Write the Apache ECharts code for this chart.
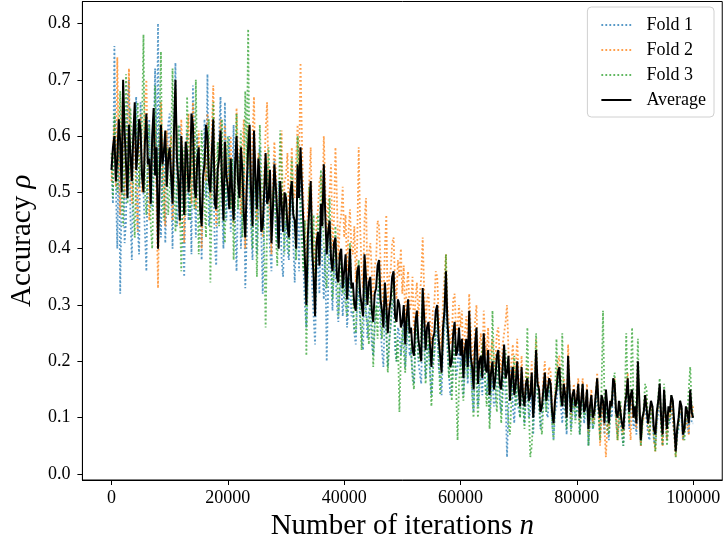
<!DOCTYPE html>
<html>
<head>
<meta charset="utf-8">
<script src="https://cdn.jsdelivr.net/npm/echarts@6/dist/echarts.min.js"></script>
<style>
html,body{margin:0;padding:0;background:#fff;}
#chart{width:723px;height:547px;}
</style>
</head>
<body>
<div id="chart"></div>
<script>
// Sampling step of the recorded curves (iterations)
const sampleStep = 250;

const fold1 = [
0.55,0.48,0.76,0.52,0.40,0.61,0.32,0.50,0.62,0.41,0.45,0.66,0.70,0.46,0.38,0.54,0.58,0.67,0.44,0.39,0.66,0.53,0.50,0.43,0.36,0.57,0.63,0.48,0.47,0.60,0.72,0.51,0.80,0.46,0.42,0.55,0.58,0.41,0.49,0.62,
0.64,0.51,0.40,0.58,0.73,0.44,0.47,0.62,0.56,0.43,0.35,0.54,0.61,0.45,0.52,0.39,0.69,0.56,0.42,0.60,0.57,0.47,0.38,0.52,0.63,0.49,0.71,0.44,0.46,0.59,0.55,0.41,0.37,0.50,0.60,0.67,0.48,0.40,0.66,0.45,
0.53,0.60,0.43,0.51,0.62,0.45,0.36,0.49,0.57,0.40,0.48,0.55,0.33,0.42,0.61,0.50,0.44,0.38,0.54,0.47,0.39,0.53,0.58,0.43,0.32,0.46,0.50,0.55,0.45,0.40,0.36,0.48,0.56,0.44,0.41,0.52,0.49,0.38,0.35,0.44,
0.45,0.40,0.38,0.46,0.50,0.41,0.34,0.43,0.47,0.36,0.52,0.44,0.37,0.30,0.26,0.35,0.41,0.45,0.33,0.28,0.23,0.36,0.39,0.32,0.44,0.37,0.31,0.40,0.20,0.33,0.42,0.35,0.29,0.38,0.36,0.30,0.27,0.33,0.34,0.28,
0.32,0.35,0.26,0.30,0.37,0.28,0.29,0.25,0.23,0.31,0.33,0.27,0.27,0.22,0.35,0.30,0.24,0.29,0.30,0.23,0.21,0.27,0.28,0.32,0.34,0.26,0.22,0.19,0.29,0.25,0.19,0.24,0.26,0.30,0.31,0.22,0.20,0.26,0.25,0.21,
0.24,0.27,0.19,0.23,0.28,0.21,0.22,0.18,0.16,0.24,0.27,0.20,0.20,0.16,0.30,0.24,0.17,0.22,0.23,0.18,0.14,0.20,0.21,0.25,0.26,0.19,0.17,0.14,0.22,0.26,0.31,0.22,0.18,0.14,0.15,0.21,0.23,0.17,0.19,0.23,
0.19,0.22,0.14,0.19,0.22,0.16,0.26,0.18,0.15,0.11,0.20,0.24,0.12,0.17,0.18,0.14,0.23,0.16,0.14,0.19,0.10,0.15,0.17,0.12,0.13,0.18,0.19,0.13,0.11,0.16,0.21,0.14,0.03,0.12,0.15,0.19,0.12,0.09,0.17,0.13,
0.13,0.10,0.17,0.12,0.09,0.14,0.15,0.10,0.11,0.16,0.07,0.12,0.19,0.14,0.12,0.08,0.08,0.13,0.16,0.11,0.10,0.15,0.14,0.09,0.06,0.11,0.12,0.16,0.17,0.12,0.09,0.14,0.11,0.07,0.18,0.13,0.08,0.12,0.13,0.10,
0.11,0.14,0.07,0.11,0.14,0.09,0.09,0.13,0.05,0.10,0.12,0.08,0.08,0.12,0.15,0.10,0.07,0.12,0.11,0.07,0.13,0.10,0.06,0.11,0.10,0.15,0.14,0.09,0.07,0.11,0.11,0.07,0.05,0.10,0.12,0.15,0.08,0.12,0.13,0.08,
0.10,0.07,0.17,0.11,0.05,0.09,0.09,0.12,0.12,0.07,0.06,0.11,0.10,0.06,0.05,0.09,0.11,0.14,0.08,0.05,0.13,0.09,0.06,0.10,0.09,0.12,0.12,0.07,0.04,0.07,0.08,0.11,0.10,0.06,0.06,0.10,0.09,0.07,0.13,0.09,
0.09];

const fold2 = [
0.52,0.58,0.62,0.51,0.74,0.57,0.46,0.63,0.68,0.49,0.55,0.61,0.72,0.53,0.48,0.59,0.60,0.47,0.43,0.56,0.64,0.50,0.52,0.66,0.70,0.54,0.45,0.51,0.57,0.63,0.62,0.48,0.33,0.52,0.66,0.58,0.50,0.44,0.61,0.55,
0.55,0.60,0.45,0.53,0.68,0.57,0.50,0.44,0.63,0.55,0.41,0.52,0.59,0.64,0.54,0.48,0.66,0.58,0.47,0.54,0.61,0.51,0.40,0.49,0.57,0.52,0.64,0.56,0.49,0.61,0.69,0.55,0.44,0.50,0.58,0.63,0.53,0.47,0.62,0.56,
0.50,0.55,0.60,0.48,0.44,0.53,0.65,0.57,0.52,0.46,0.58,0.63,0.40,0.50,0.62,0.55,0.49,0.60,0.67,0.51,0.45,0.57,0.55,0.48,0.42,0.53,0.61,0.66,0.51,0.45,0.39,0.52,0.59,0.54,0.47,0.41,0.56,0.61,0.44,0.52,
0.53,0.57,0.45,0.51,0.58,0.50,0.49,0.56,0.62,0.54,0.73,0.59,0.48,0.43,0.34,0.47,0.52,0.58,0.44,0.40,0.33,0.45,0.47,0.52,0.53,0.46,0.60,0.51,0.42,0.48,0.50,0.55,0.40,0.45,0.58,0.49,0.38,0.44,0.46,0.51,
0.42,0.46,0.36,0.43,0.47,0.40,0.39,0.44,0.34,0.41,0.58,0.44,0.36,0.33,0.45,0.49,0.34,0.39,0.41,0.36,0.31,0.37,0.38,0.45,0.44,0.38,0.33,0.30,0.40,0.46,0.29,0.35,0.36,0.41,0.42,0.34,0.31,0.38,0.35,0.40,
0.32,0.37,0.27,0.33,0.36,0.29,0.30,0.35,0.25,0.31,0.34,0.28,0.28,0.35,0.42,0.33,0.26,0.31,0.32,0.27,0.23,0.29,0.30,0.36,0.35,0.28,0.25,0.22,0.31,0.35,0.39,0.30,0.27,0.23,0.24,0.31,0.32,0.25,0.26,0.30,
0.26,0.29,0.20,0.25,0.28,0.23,0.32,0.26,0.22,0.18,0.27,0.30,0.19,0.23,0.25,0.20,0.29,0.24,0.21,0.26,0.17,0.22,0.24,0.19,0.20,0.25,0.26,0.21,0.18,0.23,0.23,0.27,0.30,0.22,0.15,0.20,0.23,0.17,0.19,0.24,
0.17,0.13,0.21,0.15,0.13,0.18,0.19,0.14,0.15,0.20,0.11,0.16,0.24,0.17,0.16,0.11,0.12,0.17,0.20,0.14,0.14,0.19,0.18,0.12,0.09,0.14,0.16,0.20,0.21,0.15,0.12,0.17,0.15,0.10,0.23,0.16,0.10,0.14,0.16,0.12,
0.14,0.17,0.09,0.13,0.17,0.11,0.12,0.16,0.07,0.11,0.15,0.09,0.10,0.14,0.18,0.12,0.05,0.10,0.13,0.08,0.03,0.09,0.08,0.13,0.12,0.16,0.17,0.10,0.06,0.11,0.12,0.08,0.07,0.12,0.15,0.18,0.10,0.06,0.14,0.10,
0.11,0.08,0.19,0.12,0.05,0.09,0.10,0.14,0.13,0.08,0.07,0.12,0.11,0.06,0.04,0.10,0.12,0.15,0.09,0.05,0.14,0.10,0.06,0.11,0.10,0.13,0.13,0.07,0.03,0.08,0.09,0.12,0.11,0.06,0.06,0.10,0.10,0.07,0.14,0.10,
0.12];

const fold3 = [
0.57,0.49,0.64,0.55,0.50,0.60,0.68,0.53,0.44,0.57,0.71,0.48,0.52,0.65,0.60,0.47,0.42,0.55,0.66,0.51,0.55,0.62,0.78,0.50,0.46,0.58,0.62,0.44,0.40,0.52,0.69,0.57,0.53,0.61,0.75,0.49,0.45,0.54,0.58,0.46,
0.50,0.59,0.72,0.54,0.43,0.51,0.62,0.48,0.36,0.52,0.58,0.46,0.67,0.56,0.45,0.60,0.55,0.47,0.70,0.53,0.39,0.50,0.61,0.55,0.48,0.42,0.57,0.63,0.34,0.49,0.66,0.53,0.52,0.59,0.44,0.51,0.63,0.46,0.41,0.55,
0.60,0.52,0.47,0.56,0.38,0.49,0.64,0.47,0.55,0.61,0.42,0.53,0.68,0.55,0.79,0.51,0.46,0.40,0.57,0.50,0.35,0.47,0.62,0.54,0.49,0.41,0.26,0.44,0.58,0.52,0.44,0.50,0.52,0.43,0.37,0.48,0.61,0.54,0.45,0.39,
0.50,0.44,0.39,0.47,0.56,0.48,0.43,0.38,0.60,0.52,0.47,0.41,0.36,0.45,0.21,0.36,0.51,0.43,0.38,0.46,0.30,0.37,0.46,0.40,0.54,0.47,0.41,0.35,0.33,0.42,0.49,0.40,0.31,0.36,0.44,0.37,0.28,0.34,0.39,0.32,
0.35,0.30,0.28,0.34,0.41,0.33,0.31,0.26,0.25,0.32,0.38,0.29,0.22,0.30,0.36,0.28,0.27,0.23,0.33,0.29,0.19,0.26,0.30,0.24,0.37,0.31,0.24,0.29,0.32,0.26,0.18,0.23,0.27,0.31,0.35,0.26,0.20,0.24,0.11,0.21,
0.26,0.22,0.18,0.25,0.30,0.24,0.22,0.17,0.15,0.23,0.28,0.21,0.20,0.27,0.32,0.24,0.16,0.20,0.25,0.19,0.12,0.18,0.22,0.27,0.29,0.21,0.14,0.19,0.23,0.30,0.39,0.25,0.17,0.22,0.13,0.19,0.24,0.15,0.06,0.16,
0.20,0.16,0.13,0.19,0.23,0.17,0.27,0.20,0.14,0.10,0.21,0.17,0.10,0.15,0.19,0.23,0.24,0.16,0.12,0.18,0.08,0.14,0.29,0.20,0.15,0.11,0.21,0.16,0.09,0.14,0.18,0.22,0.13,0.09,0.07,0.13,0.17,0.21,0.12,0.16,
0.14,0.10,0.18,0.13,0.08,0.15,0.26,0.12,0.03,0.05,0.10,0.16,0.25,0.14,0.13,0.09,0.07,0.12,0.17,0.11,0.11,0.16,0.15,0.09,0.06,0.13,0.24,0.15,0.19,0.12,0.25,0.14,0.12,0.08,0.20,0.15,0.07,0.11,0.14,0.09,
0.12,0.15,0.07,0.11,0.16,0.10,0.10,0.14,0.05,0.09,0.13,0.08,0.09,0.14,0.17,0.11,0.06,0.15,0.29,0.13,0.12,0.08,0.07,0.11,0.11,0.16,0.18,0.10,0.06,0.09,0.13,0.08,0.05,0.12,0.25,0.14,0.09,0.16,0.26,0.12,
0.10,0.14,0.24,0.11,0.05,0.08,0.12,0.16,0.15,0.09,0.07,0.11,0.12,0.07,0.04,0.10,0.14,0.17,0.08,0.05,0.16,0.11,0.05,0.09,0.10,0.14,0.13,0.08,0.03,0.07,0.09,0.13,0.12,0.07,0.06,0.10,0.11,0.15,0.19,0.12,
0.10];

const average = [
0.54,0.58,0.60,0.52,0.56,0.63,0.59,0.50,0.70,0.61,0.55,0.49,0.62,0.57,0.52,0.60,0.66,0.54,0.57,0.63,0.61,0.53,0.50,0.59,0.64,0.55,0.56,0.48,0.60,0.65,0.53,0.58,0.40,0.51,0.62,0.55,0.57,0.61,0.51,0.56,
0.58,0.53,0.48,0.61,0.70,0.56,0.52,0.45,0.60,0.54,0.46,0.59,0.57,0.50,0.53,0.64,0.62,0.51,0.49,0.56,0.58,0.47,0.44,0.53,0.55,0.62,0.60,0.52,0.50,0.57,0.63,0.48,0.47,0.54,0.56,0.61,0.52,0.45,0.59,0.53,
0.51,0.47,0.56,0.50,0.45,0.55,0.60,0.52,0.49,0.58,0.54,0.46,0.42,0.51,0.58,0.62,0.50,0.44,0.61,0.53,0.47,0.56,0.52,0.43,0.44,0.50,0.57,0.48,0.49,0.54,0.41,0.47,0.55,0.51,0.46,0.40,0.52,0.48,0.43,0.50,
0.49,0.44,0.42,0.50,0.52,0.46,0.45,0.40,0.55,0.49,0.58,0.51,0.44,0.38,0.30,0.42,0.47,0.52,0.40,0.35,0.28,0.41,0.43,0.37,0.48,0.44,0.55,0.46,0.39,0.43,0.45,0.38,0.36,0.41,0.42,0.35,0.34,0.39,0.40,0.33,
0.36,0.39,0.31,0.35,0.40,0.33,0.34,0.30,0.29,0.36,0.37,0.32,0.32,0.28,0.39,0.35,0.30,0.34,0.35,0.29,0.27,0.32,0.33,0.37,0.38,0.31,0.29,0.26,0.34,0.30,0.25,0.29,0.31,0.35,0.36,0.28,0.27,0.31,0.30,0.26,
0.27,0.30,0.23,0.28,0.31,0.25,0.26,0.22,0.21,0.27,0.29,0.24,0.24,0.20,0.33,0.28,0.22,0.26,0.27,0.23,0.19,0.24,0.25,0.29,0.30,0.24,0.21,0.18,0.26,0.29,0.36,0.27,0.23,0.19,0.20,0.25,0.27,0.21,0.22,0.26,
0.21,0.24,0.17,0.22,0.24,0.19,0.29,0.21,0.19,0.15,0.23,0.26,0.16,0.20,0.21,0.17,0.25,0.19,0.18,0.22,0.14,0.18,0.20,0.15,0.17,0.21,0.22,0.16,0.15,0.19,0.23,0.17,0.18,0.21,0.13,0.17,0.19,0.14,0.16,0.20,
0.15,0.12,0.19,0.14,0.12,0.16,0.17,0.13,0.14,0.18,0.10,0.14,0.22,0.16,0.15,0.11,0.12,0.15,0.18,0.13,0.13,0.17,0.16,0.11,0.09,0.13,0.15,0.18,0.19,0.14,0.12,0.16,0.14,0.10,0.21,0.15,0.11,0.14,0.15,0.12,
0.13,0.16,0.10,0.13,0.16,0.11,0.12,0.15,0.08,0.12,0.14,0.10,0.11,0.14,0.17,0.12,0.10,0.14,0.13,0.09,0.15,0.12,0.09,0.13,0.12,0.17,0.16,0.11,0.10,0.13,0.13,0.09,0.08,0.12,0.14,0.17,0.11,0.14,0.15,0.10,
0.12,0.09,0.20,0.13,0.06,0.10,0.11,0.14,0.14,0.09,0.09,0.13,0.12,0.08,0.07,0.11,0.13,0.16,0.10,0.07,0.15,0.11,0.08,0.12,0.11,0.14,0.13,0.09,0.04,0.08,0.10,0.13,0.12,0.07,0.08,0.12,0.11,0.09,0.15,0.11,
0.10];

const seriesNames = ['Fold 1', 'Fold 2', 'Fold 3', 'Average'];
const xTicks = [0, 20000, 40000, 60000, 80000, 100000];
const yTicks = [0.0, 0.1, 0.2, 0.3, 0.4, 0.5, 0.6, 0.7, 0.8];

const iterations = fold1.map((_, i) => i * sampleStep);
const pair = arr => arr.map((v, i) => [iterations[i], v]);

const FONT = 'Liberation Serif';
const chart = echarts.init(document.getElementById('chart'), null, {renderer: 'canvas'});

function foldSeries(name, data, color) {
  return {
    name: name, type: 'line', data: pair(data),
    showSymbol: false, symbol: 'none', silent: true,
    lineStyle: {color: color, width: 1.8, type: [1.8, 2.2], opacity: 0.75},
    itemStyle: {color: color, opacity: 0.75}
  };
}

chart.setOption({
  animation: false,
  backgroundColor: '#ffffff',
  grid: {left: 79, right: 0.5, top: 1.5, bottom: 67, show: true, borderColor: '#000', borderWidth: 1, backgroundColor: 'transparent'},
  legend: {
    data: seriesNames,
    orient: 'vertical', right: 9, top: 7,
    itemWidth: 30, itemHeight: 18, itemGap: 7,
    padding: [9, 8, 8, 13],
    backgroundColor: 'rgba(255,255,255,0.8)',
    borderColor: '#d0d0d0', borderWidth: 1, borderRadius: 4,
    itemStyle: {opacity: 0},
    textStyle: {fontFamily: FONT, fontSize: 18, color: '#000', padding: [0, 0, 0, 10]}
  },
  xAxis: {
    type: 'value', min: -5000, max: 105000,
    name: 'Number of iterations {i|n}', nameLocation: 'middle', nameGap: 29,
    nameTextStyle: {fontFamily: FONT, fontSize: 29, color: '#000',
      rich: {i: {fontFamily: FONT, fontSize: 29, fontStyle: 'italic', color: '#000'}}},
    axisLine: {onZero: false, lineStyle: {color: '#000', width: 1}},
    axisTick: {show: true, length: 5, customValues: xTicks, lineStyle: {color: '#000', width: 1}},
    axisLabel: {customValues: xTicks, fontFamily: FONT, fontSize: 18, color: '#000', margin: 9,
      formatter: v => String(v)},
    splitLine: {show: false}
  },
  yAxis: {
    type: 'value', min: -0.0107, max: 0.839,
    name: 'Accuracy {i|ρ}', nameLocation: 'middle', nameGap: 38,
    nameTextStyle: {fontFamily: FONT, fontSize: 29, color: '#000',
      rich: {i: {fontFamily: FONT, fontSize: 29, fontStyle: 'italic', color: '#000'}}},
    axisLine: {onZero: false, lineStyle: {color: '#000', width: 1}},
    axisTick: {show: true, length: 5, customValues: yTicks, lineStyle: {color: '#000', width: 1}},
    axisLabel: {customValues: yTicks, fontFamily: FONT, fontSize: 18, color: '#000', margin: 12,
      formatter: v => Number(v).toFixed(1)},
    splitLine: {show: false}
  },
  series: [
    foldSeries(seriesNames[0], fold1, '#1f77b4'),
    foldSeries(seriesNames[1], fold2, '#ff7f0e'),
    foldSeries(seriesNames[2], fold3, '#2ca02c'),
    {
      name: seriesNames[3], type: 'line', data: pair(average),
      showSymbol: false, symbol: 'none', silent: true,
      lineStyle: {color: '#000', width: 2, type: 'solid'},
      itemStyle: {color: '#000'}
    }
  ]
});
</script>
</body>
</html>
